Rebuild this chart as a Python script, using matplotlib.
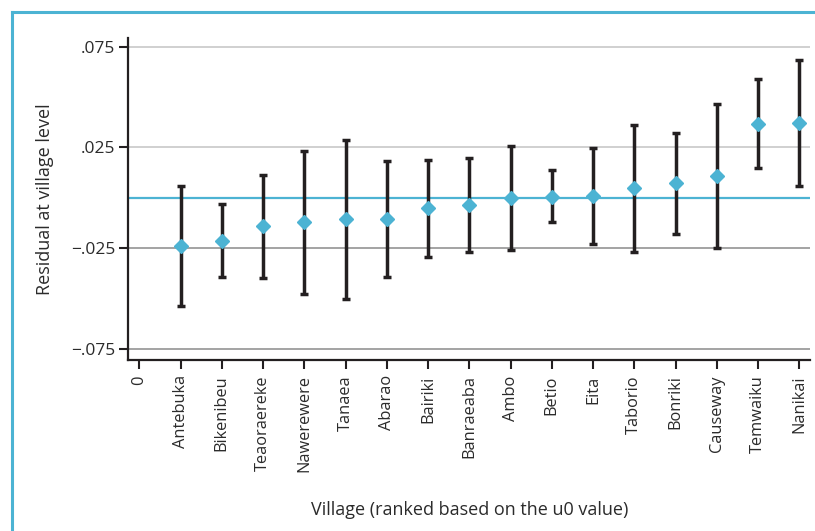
import matplotlib
matplotlib.use("Agg")
import matplotlib.pyplot as plt
from matplotlib.lines import Line2D

plt.rcParams['font.family'] = ['Open Sans', 'DejaVu Sans']

villages = ["Antebuka", "Bikenibeu", "Teaoraereke", "Nawerewere", "Tanaea",
            "Abarao", "Bairiki", "Banraeaba", "Ambo", "Betio", "Eita",
            "Taborio", "Bonriki", "Causeway", "Temwaiku", "Nanikai"]
residual = [-0.0240, -0.0213, -0.0142, -0.0123, -0.0107, -0.0104, -0.0052,
            -0.0037, -0.0002, 0.0004, 0.0007, 0.0047, 0.0071, 0.0108,
            0.0369, 0.0372]
upper = [0.0059, -0.0032, 0.0115, 0.0235, 0.0289, 0.0185, 0.0190, 0.0200,
         0.0255, 0.0137, 0.0245, 0.0362, 0.0322, 0.0468, 0.0589, 0.0687]
lower = [-0.0538, -0.0394, -0.0399, -0.0478, -0.0506, -0.0392, -0.0294,
         -0.0270, -0.0261, -0.0123, -0.0228, -0.0270, -0.0182, -0.0250,
         0.0148, 0.0059]
ytick_vals = [-0.075, -0.025, 0.025, 0.075]
ytick_labels = ["\u2212.075", "\u2212.025", ".025", ".075"]

BLUE = "#4cb3d3"
INK = "#231f20"
TXT = "#2b2b2b"

fig = plt.figure(figsize=(8.15, 5.31), dpi=100)
ax = fig.add_axes([0.1567, 0.322, 0.8372, 0.607])

# frame lines along the top and left of the figure
fig.add_artist(Line2D([12 / 815, 12 / 815], [0, 1 - 12 / 531],
                      transform=fig.transFigure, color=BLUE, lw=2.2))
fig.add_artist(Line2D([12 / 815, 1], [1 - 12 / 531, 1 - 12 / 531],
                      transform=fig.transFigure, color=BLUE, lw=2.2))

# horizontal grid
for v in ytick_vals:
    ax.axhline(v, color="#c4c4c4" if v > 0 else "#8a8a8a", lw=1.1, zorder=1)

# reference line at zero
ax.axhline(0, color=BLUE, lw=1.6, zorder=2)

xs = list(range(1, len(villages) + 1))
err_lo = [r - l for r, l in zip(residual, lower)]
err_hi = [u - r for r, u in zip(residual, upper)]
ax.errorbar(xs, residual, yerr=[err_lo, err_hi], fmt='none', ecolor=INK,
            elinewidth=2.5, capsize=3.2, capthick=2.5, zorder=3)
ax.plot(xs, residual, linestyle='none', marker='D', markersize=6.8,
        color=BLUE, markeredgecolor=BLUE, zorder=4)

ax.set_xlim(-0.28, 16.26)
ax.set_ylim(-0.0807, 0.0796)
ax.set_xticks([0] + xs)
ax.set_xticklabels(["0"] + villages, rotation=90, fontsize=11.8, color=TXT)
ax.set_yticks(ytick_vals)
ax.set_yticklabels(ytick_labels, fontsize=12.5, color=TXT)

for s in ["top", "right"]:
    ax.spines[s].set_visible(False)
for s in ["left", "bottom"]:
    ax.spines[s].set_color(INK)
    ax.spines[s].set_linewidth(1.6)
ax.tick_params(axis='both', direction='out', length=6.5, width=1.5, color=INK)
ax.tick_params(axis='x', pad=4.5)
ax.tick_params(axis='y', pad=2.5)

ax.set_ylabel("Residual at village level", fontsize=13, color=TXT, labelpad=12)
fig.text(470 / 815, 1 - 510 / 531, "Village (ranked based on the u0 value)",
         ha='center', va='center', fontsize=13, color=TXT)

fig.savefig("out.png", dpi=100)
